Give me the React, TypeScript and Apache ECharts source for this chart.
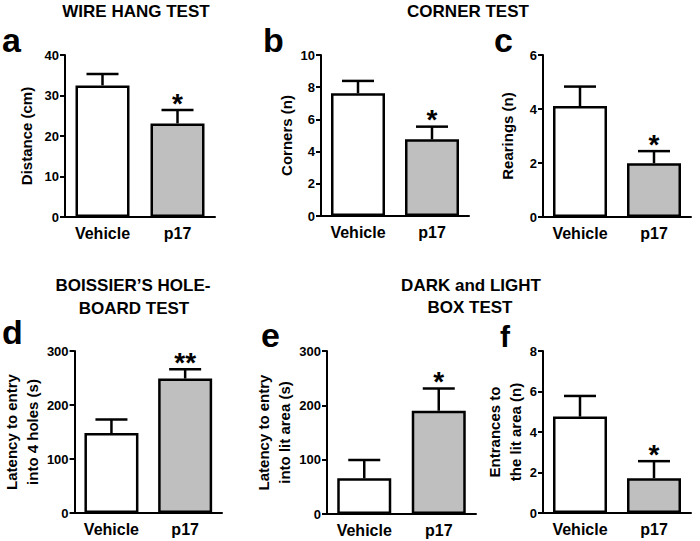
import React, { useEffect, useRef } from "react";
import * as echarts from "echarts";

const categories = ["Vehicle", "p17"];

const wireHangMean = [32.5, 23.1];
const wireHangSem = [2.8, 3.3];
const wireHangSig = ["", "*"];

const cornersMean = [7.62, 4.76];
const cornersSem = [0.77, 0.79];
const cornersSig = ["", "*"];

const rearingsMean = [4.11, 1.99];
const rearingsSem = [0.72, 0.45];
const rearingsSig = ["", "*"];

const holeBoardMean = [148, 249];
const holeBoardSem = [25, 17];
const holeBoardSig = ["", "**"];

const litLatencyMean = [65.6, 190];
const litLatencySem = [34, 41];
const litLatencySig = ["", "*"];

const entrancesMean = [4.76, 1.72];
const entrancesSem = [1.02, 0.84];
const entrancesSig = ["", "*"];

const yMax = [40, 10, 6, 300, 300, 8];
const yInterval = [10, 2, 2, 100, 100, 2];
const yNames = [
  "Distance (cm)",
  "Corners (n)",
  "Rearings (n)",
  "Latency to entry\ninto 4 holes (s)",
  "Latency to entry\ninto lit area (s)",
  "Entrances to\nthe lit area (n)",
];
const panelLetters = ["a", "b", "c", "d", "e", "f"];
const barColors = ["#ffffff", "#bfbfbf"];

const FONT = "'Liberation Sans', Arial, Helvetica, sans-serif";

export default function App() {
  const ref = useRef<HTMLDivElement>(null);

  useEffect(() => {
    if (!ref.current) return;
    document.body.style.margin = "0";
    const chart = echarts.init(ref.current, undefined, { renderer: "svg" });

    const means = [wireHangMean, cornersMean, rearingsMean, holeBoardMean, litLatencyMean, entrancesMean];
    const sems = [wireHangSem, cornersSem, rearingsSem, holeBoardSem, litLatencySem, entrancesSem];
    const sigs = [wireHangSig, cornersSig, rearingsSig, holeBoardSig, litLatencySig, entrancesSig];

    const grids = [
      { left: 65, top: 55, width: 150, height: 162 },
      { left: 321, top: 55, width: 148, height: 161 },
      { left: 543, top: 55, width: 148, height: 162 },
      { left: 73, top: 351, width: 149, height: 162 },
      { left: 327, top: 351, width: 149, height: 163 },
      { left: 543, top: 351, width: 148, height: 162 },
    ];
    const nameGaps = [28, 23, 25, 27, 32, 17];
    const barWidth = 54;

    const xAxes = grids.map((_, i) => ({
      type: "category",
      gridIndex: i,
      data: categories,
      axisLine: { lineStyle: { color: "#000", width: 2 } },
      axisTick: { alignWithLabel: true, length: 5, lineStyle: { color: "#000", width: 2 } },
      axisLabel: { color: "#000", fontFamily: FONT, fontWeight: "bold", fontSize: 16, margin: 8 },
    }));

    const yAxes = grids.map((_, i) => ({
      type: "value",
      gridIndex: i,
      min: 0,
      max: yMax[i],
      interval: yInterval[i],
      name: yNames[i],
      nameLocation: "middle",
      nameGap: nameGaps[i],
      nameTextStyle: {
        color: "#000",
        fontFamily: FONT,
        fontWeight: "bold",
        fontSize: 15,
        lineHeight: 21,
      },
      splitLine: { show: false },
      axisLine: { show: true, lineStyle: { color: "#000", width: 2 } },
      axisTick: { show: true, length: 5, lineStyle: { color: "#000", width: 2 } },
      axisLabel: { color: "#000", fontFamily: FONT, fontWeight: "bold", fontSize: 13, margin: 6 },
    }));

    const series: any[] = [];
    grids.forEach((_, i) => {
      series.push({
        type: "bar",
        xAxisIndex: i,
        yAxisIndex: i,
        barWidth,
        data: means[i].map((v, k) => ({
          value: v,
          itemStyle: { color: barColors[k], borderColor: "#000", borderWidth: 2.5 },
        })),
        z: 3,
      });
      const sigArr = sigs[i];
      series.push({
        type: "custom",
        xAxisIndex: i,
        yAxisIndex: i,
        z: 2,
        data: means[i].map((m, k) => [k, m, sems[i][k]]),
        renderItem: (params: any, api: any) => {
          const idx = api.value(0);
          const mean = api.value(1);
          const sem = api.value(2);
          const base = api.coord([idx, mean]);
          const top = api.coord([idx, mean + sem]);
          const half = 16;
          const st = { stroke: "#000", lineWidth: 2.5 };
          const children: any[] = [
            { type: "line", shape: { x1: base[0], y1: base[1], x2: top[0], y2: top[1] }, style: st },
            { type: "line", shape: { x1: top[0] - half, y1: top[1], x2: top[0] + half, y2: top[1] }, style: st },
          ];
          const s = sigArr[params.dataIndex];
          if (s) {
            children.push({
              type: "text",
              x: top[0],
              y: top[1] - 7,
              style: {
                text: s,
                fill: "#000",
                font: `bold 28px ${FONT}`,
                align: "center",
                verticalAlign: "middle",
              },
            });
          }
          return { type: "group", children };
        },
      });
    });

    const titleStyle = (text: string, x: number, y: number) => ({
      type: "text",
      x,
      y,
      style: {
        text,
        fill: "#000",
        font: `bold 17px ${FONT}`,
        align: "center",
        verticalAlign: "bottom",
      },
    });
    // y here is the intended baseline; 'middle' anchor sits ~0.36em above it
    const letterStyle = (text: string, x: number, y: number, size: number) => ({
      type: "text",
      x,
      y: y - Math.round(size * 0.37),
      style: {
        text,
        fill: "#000",
        font: `bold ${size}px ${FONT}`,
        lineHeight: Math.round(size * 0.8),
        align: "left",
        verticalAlign: "middle",
      },
    });

    const letterPos = [
      [2, 53, 34],
      [263, 53, 34],
      [494, 53, 34],
      [2, 345, 34],
      [261, 348, 34],
      [500, 347, 30],
    ];

    chart.setOption({
      animation: false,
      backgroundColor: "#ffffff",
      grid: grids.map((g) => ({ ...g, containLabel: false })),
      xAxis: xAxes,
      yAxis: yAxes,
      series,
      graphic: [
        titleStyle("WIRE HANG TEST", 136, 20),
        titleStyle("CORNER TEST", 468, 20),
        titleStyle("BOISSIER\u2019S HOLE-", 133, 294),
        titleStyle("BOARD TEST", 134, 317),
        titleStyle("DARK and LIGHT", 471, 294),
        titleStyle("BOX TEST", 470, 316),
        ...panelLetters.map((l, i) => letterStyle(l, letterPos[i][0], letterPos[i][1], letterPos[i][2])),
      ],
    });

    return () => chart.dispose();
  }, []);

  return (
    <div
      ref={ref}
      style={{ position: "fixed", left: 0, top: 0, width: 700, height: 541, background: "#fff" }}
    />
  );
}
